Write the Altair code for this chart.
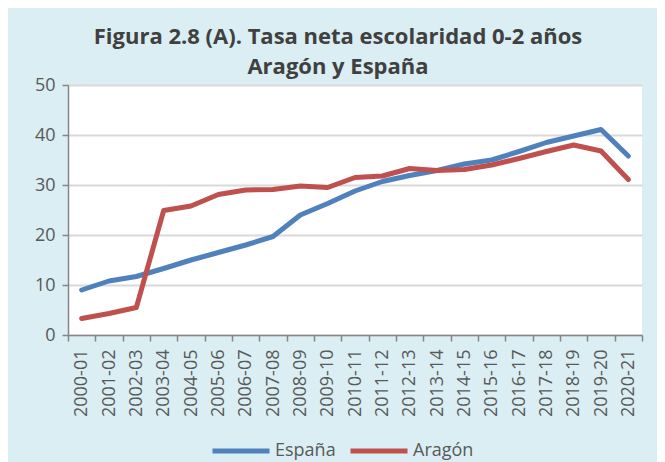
import altair as alt
import pandas as pd

seasons = ["2000-01", "2001-02", "2002-03", "2003-04", "2004-05", "2005-06", "2006-07",
           "2007-08", "2008-09", "2009-10", "2010-11", "2011-12", "2012-13", "2013-14",
           "2014-15", "2015-16", "2016-17", "2017-18", "2018-19", "2019-20", "2020-21"]
espana = [9.0, 10.8, 11.7, 13.3, 15.0, 16.5, 18.0, 19.7, 24.0, 26.3, 28.8, 30.7, 31.9,
          32.9, 34.2, 35.0, 36.7, 38.5, 39.8, 41.1, 35.8]
aragon = [3.3, 4.3, 5.5, 24.9, 25.8, 28.1, 29.0, 29.1, 29.8, 29.5, 31.5, 31.8, 33.3,
          32.9, 33.1, 34.0, 35.3, 36.7, 38.0, 36.8, 31.1]
series = ["España", "Aragón"]
colors = ["#4F81BD", "#C0504D"]
title_lines = ["Figura 2.8 (A). Tasa neta escolaridad 0-2 años", "Aragón y España"]

rows = []
for s, vals in zip(series, [espana, aragon]):
    for season, v in zip(seasons, vals):
        rows.append({"curso": season, "valor": v, "serie": s})
df = pd.DataFrame(rows)

FONT = "Open Sans"
GRAY = "#595959"
AXIS = "#868686"

chart = alt.Chart(df).mark_line(strokeWidth=5, strokeCap="round", strokeJoin="round").encode(
    x=alt.X("curso:N", sort=seasons, bandPosition=0.5,
            scale=alt.Scale(type="band", domain=seasons, paddingInner=0, paddingOuter=0),
            axis=alt.Axis(title=None, labelAngle=-90, tickBand="extent", grid=False,
                          domainColor=AXIS, tickColor=AXIS, tickSize=6, labelPadding=8,
                          labelFontSize=18, labelColor=GRAY, labelFont=FONT,
                          domainWidth=1.5, tickWidth=1.5)),
    y=alt.Y("valor:Q", scale=alt.Scale(domain=[0, 50], nice=False),
            axis=alt.Axis(title=None, values=[0, 10, 20, 30, 40, 50], grid=True,
                          gridColor="#D9D9D9", gridWidth=2, domainColor=AXIS, tickColor=AXIS,
                          tickSize=6, labelPadding=7, labelFontSize=18, labelColor=GRAY,
                          labelFont=FONT, domainWidth=1.5, tickWidth=1.5)),
    color=alt.Color("serie:N", sort=series,
                    scale=alt.Scale(domain=series, range=colors),
                    legend=alt.Legend(title=None, orient="none", direction="horizontal",
                                      legendX=142, legendY=335, symbolType="stroke",
                                      symbolSize=3249, symbolStrokeWidth=5,
                                      labelFontSize=18, labelColor=GRAY, labelFont=FONT,
                                      labelOffset=3, columnPadding=4)),
).properties(
    width=574,
    height=250,
    title=alt.TitleParams(text=title_lines, fontSize=22, fontWeight="bold", color="#404040",
                          font=FONT, lineHeight=30, anchor="middle", dx=-17, offset=-3),
    background="#DAEEF3",
    autosize=alt.AutoSizeParams(type="none"),
    padding={"left": 60, "top": 77, "right": 15, "bottom": 127},
).configure_view(fill="white", strokeWidth=0)

chart.save("out.html", embed_options={"renderer": "svg", "actions": False})
